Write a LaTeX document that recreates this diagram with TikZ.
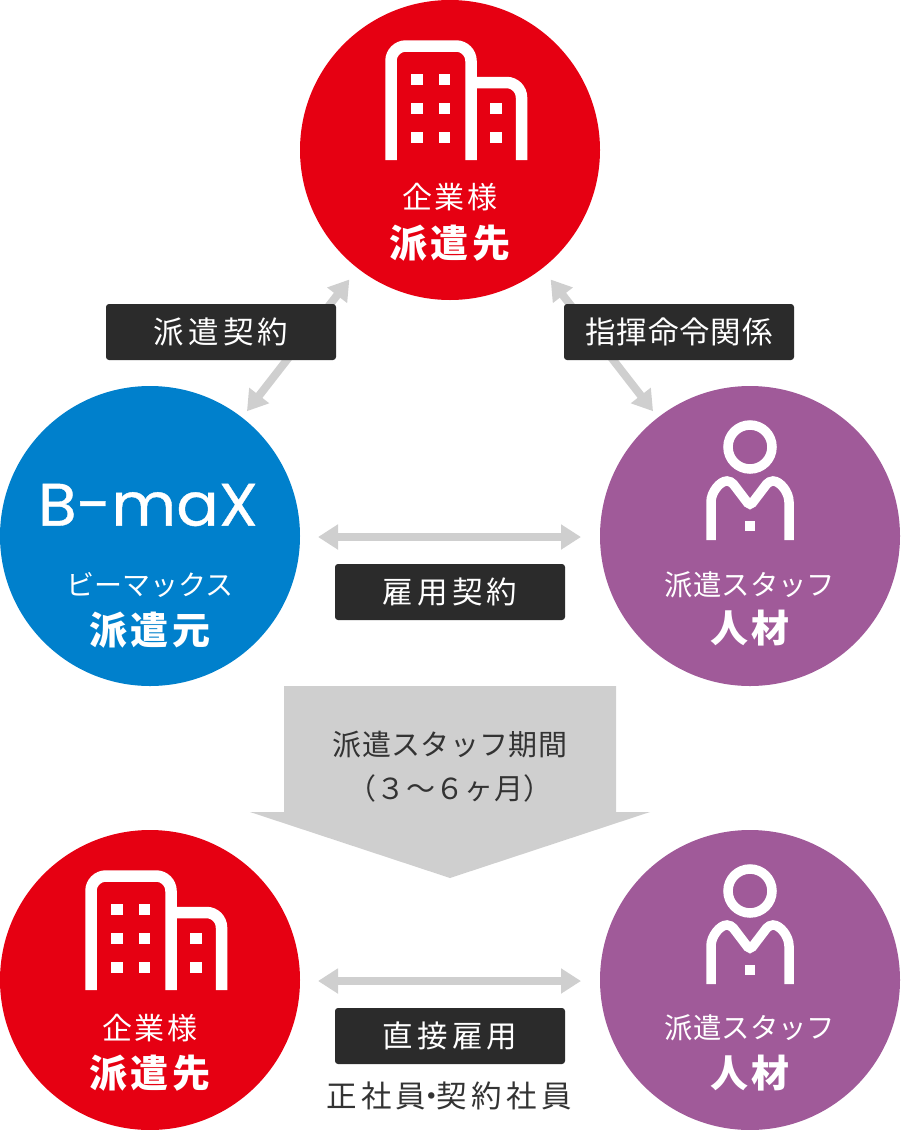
\documentclass[tikz,border=0pt]{standalone}
\usepackage{fontspec}
\usepackage{xcolor}
\setmainfont{Noto Sans CJK JP}
\newfontfamily\logofont[FakeBold=0.6]{Poppins}
\usetikzlibrary{positioning, arrows.meta}
\definecolor{bmaxred}{HTML}{E60012}
\definecolor{bmaxblue}{HTML}{0080CC}
\definecolor{bmaxpurple}{HTML}{A05A99}
\definecolor{bmaxdark}{HTML}{2B2B2B}
\definecolor{bmaxgray}{HTML}{CFCFCF}
\definecolor{bmaxtext}{HTML}{333333}

\begin{document}
\begin{tikzpicture}[
	x=1pt, y=-1pt,
	disc/.style={
		circle,
		minimum size=300pt,
		inner sep=0pt,
		outer sep=0pt
	},
	sized/.style args={#1/#2}{
		inner sep=0pt,
		text height={0.88*#1pt},
		text depth={0.12*#1pt},
		font=\fontsize{#1pt}{#1pt}\selectfont\addfontfeature{LetterSpace=#2}
	},
	boldsized/.style args={#1/#2}{
		inner sep=0pt,
		text height={0.88*#1pt},
		text depth={0.12*#1pt},
		font=\bfseries\fontsize{#1pt}{#1pt}\selectfont\addfontfeature{LetterSpace=#2}
	},
	subtext/.style={sized=#1, text=white},
	mainlabel/.style={boldsized=#1, text=white},
	tag/.style={
		fill=bmaxdark,
		rounded corners=3pt,
		minimum width=230pt,
		minimum height=56pt,
		inner sep=0pt
	},
	tagtext/.style={sized=#1, text=white},
	plain/.style={sized=#1, text=bmaxtext},
	twoway/.style={
		draw=bmaxgray,
		line width=8pt,
		{Triangle[length=20pt,width=24pt,fill=bmaxgray]}-{Triangle[length=20pt,width=24pt,fill=bmaxgray]}
	},
	building/.pic={
		\draw[white, line width=11.5pt, rounded corners=15pt] (-59,10) -- (-59,-104) -- (21,-104) -- (21,10);
		\draw[white, line width=11.5pt, rounded corners=15pt] (21,-67.5) -- (71.5,-67.5) -- (71.5,10);
		\foreach \wx/\wy in {-33/-70.5,-5.5/-70.5,-33/-41.5,-5.5/-41.5,46/-41.5,-33/-12.5,-5.5/-12.5,46/-12.5}
			\fill[white] (\wx-5.7,\wy-5.7) rectangle (\wx+5.7,\wy+5.7);
	},
	person/.pic={
		\draw[white, line width=9.5pt] (0,-89) circle [radius=22pt];
		\draw[white, line width=9.5pt, rounded corners=4pt] (-39,4) -- (-39,-30) .. controls (-39,-44) and (-30,-55) .. (-19,-55) -- (0,-30) -- (19,-55) .. controls (30,-55) and (39,-44) .. (39,-30) -- (39,4);
		\fill[white] (-5,-15) rectangle (5,-5);
	}
	]
	\useasboundingbox (0,0) rectangle (900,1130);
	
	% Circles
	\node[disc, fill=bmaxred] (top) at (450,150) {};
	\node[disc, fill=bmaxblue] (left) at (150,536) {};
	\node[disc, fill=bmaxpurple, right=300pt of left] (right) {};
	\node[disc, fill=bmaxred, below=144pt of left] (lowleft) {};
	\node[disc, fill=bmaxpurple, below=144pt of right] (lowright) {};
	
	% Connect circles
	\draw[twoway, shorten <=14pt, shorten >=8pt] (top) -- (left);
	\draw[twoway, shorten <=14pt, shorten >=8pt] (top) -- (right);
	\draw[twoway, shorten <=18pt, shorten >=19pt] ([yshift=-1pt]left.east) -- ([yshift=-1pt]right.west);
	\draw[twoway, shorten <=18pt, shorten >=19pt] ([yshift=-1pt]lowleft.east) -- ([yshift=-1pt]lowright.west);
	
	% Icons
	\pic at (top) {building};
	\pic at (lowleft) {building};
	\pic at (right) {person};
	\pic at (lowright) {person};
	\node[inner sep=0pt, text=white, font=\logofont\fontsize{60pt}{60pt}\selectfont, xscale=1.05] (logo) at (148,505) {B-maX};
	
	% Circle labels
	\node[subtext=30/7] (topsub) at ([yshift=-47pt]top.center) {企業様};
	\node[mainlabel=38/9] (topmain) at ([yshift=-93pt]top.center) {派遣先};
	\node[subtext=28/0] (leftsub) at ([yshift=-49pt]left.center) {ビーマックス};
	\node[mainlabel=38/9] (leftmain) at ([yshift=-94pt]left.center) {派遣元};
	\node[subtext=28.4/0] (rightsub) at ([yshift=-49pt]right.center) {派遣スタッフ};
	\node[mainlabel=38/8] (rightmain) at ([yshift=-92pt]right.center) {人材};
	\node[subtext=30/7] (lowleftsub) at ([yshift=-48pt]lowleft.center) {企業様};
	\node[mainlabel=38/9] (lowleftmain) at ([yshift=-93pt]lowleft.center) {派遣先};
	\node[subtext=28.4/0] (lowrightsub) at ([yshift=-48pt]lowright.center) {派遣スタッフ};
	\node[mainlabel=38/8] (lowrightmain) at ([yshift=-93pt]lowright.center) {人材};
	
	% Tags
	\node[tag] (tagleft) at (221,332) {};
	\node[tagtext=30.5/14] at (tagleft) {派遣契約};
	\node[tag] (tagright) at (679,332) {};
	\node[tagtext=30.5/3] at (tagright) {指揮命令関係};
	\node[tag] (tagmid) at (450,592) {};
	\node[tagtext=30.5/14] at (tagmid) {雇用契約};
	\node[tag] (taglow) at (450,1036) {};
	\node[tagtext=30.5/14] at (taglow) {直接雇用};
	\node[plain=30.5/14] (regular) at (449,1096) {正社員\kern-10pt・\kern-10pt契約社員};
	
	% Period arrow
	\fill[bmaxgray] (284,686) -- (616,686) -- (616,812) -- (650,812) -- (450,878) -- (250,812) -- (284,812) -- cycle;
	\node[plain=29/1] (period) at (450,744) {派遣スタッフ期間};
	\node[plain=29/1] (months) at (450,788) {（３～６ヶ月）};
	
\end{tikzpicture}
\end{document}
